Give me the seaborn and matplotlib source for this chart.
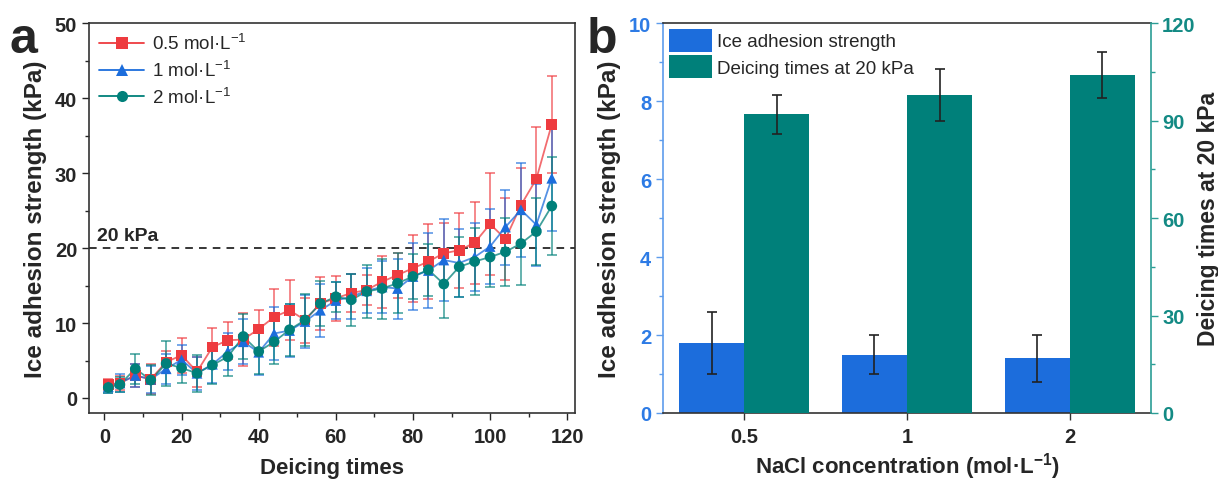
import numpy as np
import pandas as pd
import matplotlib
matplotlib.use("Agg")
import matplotlib.pyplot as plt
import seaborn as sns
from matplotlib.lines import Line2D
from matplotlib.patches import Patch
from matplotlib.ticker import MultipleLocator

# ---------------- data ----------------
deicing_times = [1, 4, 8, 12, 16, 20, 24, 28, 32, 36, 40, 44, 48, 52, 56,
                 60, 64, 68, 72, 76, 80, 84, 88, 92, 96, 100, 104, 108, 112, 116]

strength_05 = [1.8, 2.0, 3.0, 2.5, 4.8, 5.7, 3.5, 6.8, 7.7, 7.8, 9.2, 10.8, 11.7, 10.4, 12.6,
               13.3, 14.0, 14.4, 15.5, 16.4, 17.3, 18.2, 19.3, 19.7, 20.7, 23.2, 21.2, 25.7, 29.2, 36.5]
err_05 = [0.8, 1.0, 1.5, 2.0, 1.5, 2.3, 2.0, 2.5, 2.5, 3.5, 2.5, 3.8, 4.0, 3.0, 3.5,
          3.0, 2.5, 2.0, 3.5, 3.0, 4.5, 5.0, 4.0, 5.0, 5.5, 6.8, 5.5, 5.0, 7.0, 6.5]

strength_1 = [1.5, 2.0, 3.0, 2.5, 3.9, 5.1, 3.3, 4.5, 6.2, 7.5, 6.1, 8.6, 9.0, 10.2, 11.7,
              13.0, 13.5, 14.3, 14.8, 14.6, 16.2, 17.0, 18.4, 18.0, 18.8, 20.2, 22.8, 25.1, 23.1, 29.3]
err_1 = [0.8, 1.2, 1.5, 1.8, 2.0, 2.0, 2.2, 2.5, 2.5, 3.0, 3.0, 3.5, 3.5, 3.5, 3.5,
         2.5, 3.0, 3.0, 3.5, 4.0, 4.5, 5.0, 5.5, 4.5, 4.5, 5.0, 5.0, 6.3, 5.5, 7.0]

strength_2 = [1.4, 1.8, 3.9, 2.4, 4.6, 4.0, 3.3, 4.4, 5.5, 8.2, 6.2, 7.5, 9.1, 10.4, 12.6,
              13.5, 13.1, 14.2, 14.6, 15.3, 16.2, 17.1, 15.2, 17.5, 18.2, 18.8, 19.5, 20.6, 22.2, 25.6]
err_2 = [0.7, 1.0, 2.0, 2.0, 3.0, 2.0, 2.5, 2.5, 2.5, 3.0, 3.0, 3.0, 3.5, 3.5, 3.0,
         2.0, 3.5, 3.5, 4.0, 4.0, 3.0, 3.5, 4.5, 4.0, 4.5, 4.0, 4.5, 5.5, 4.5, 6.5]

series_labels = ["0.5 mol·L$^{-1}$", "1 mol·L$^{-1}$", "2 mol·L$^{-1}$"]
threshold = 20

nacl_conc = ["0.5", "1", "2"]
adhesion = [1.8, 1.5, 1.4]
adhesion_err = [0.8, 0.5, 0.6]
deicing_at_20 = [92, 98, 104]
deicing_err = [6, 8, 7]

# ---------------- style ----------------
sns.set_theme(style="ticks")
plt.rcParams["font.family"] = ["Liberation Sans", "DejaVu Sans"]
plt.rcParams["mathtext.fontset"] = "custom"
plt.rcParams["mathtext.rm"] = "Liberation Sans"
plt.rcParams["mathtext.bf"] = "Liberation Sans:bold"
plt.rcParams["mathtext.it"] = "Liberation Sans:italic"

RED = "#EE3B3F"
BLUE = "#1C6DDC"
TEAL = "#00807A"
colors = [RED, BLUE, TEAL]
markers = ["s", "^", "o"]

TICK_FS = 14.5
XLAB_FS = 16
YLAB_FS = 17.5

fig = plt.figure(figsize=(12.18, 4.81), dpi=100)
ax = fig.add_axes([0.0731, 0.1393, 0.3989, 0.8107])
axb = fig.add_axes([0.5443, 0.1393, 0.4007, 0.8107])

# ---------------- panel a ----------------
df = pd.DataFrame({
    "times": deicing_times * 3,
    "strength": strength_05 + strength_1 + strength_2,
    "err": err_05 + err_1 + err_2,
    "conc": sum([[lab] * len(deicing_times) for lab in series_labels], []),
})
pal = dict(zip(series_labels, colors))
mk = dict(zip(series_labels, markers))

for lab, c in zip(series_labels, colors):
    sub = df[df["conc"] == lab]
    ax.errorbar(sub["times"], sub["strength"], yerr=sub["err"], fmt="none",
                ecolor=c, elinewidth=1.2, capsize=3.6, capthick=1.2, alpha=0.7, zorder=2)

sns.lineplot(data=df, x="times", y="strength", hue="conc", palette=pal,
             linewidth=1.3, alpha=0.75, legend=False, ax=ax, zorder=3)
sns.scatterplot(data=df, x="times", y="strength", hue="conc", style="conc",
                palette=pal, markers=mk, s=60, linewidth=0, legend=False, ax=ax, zorder=4)

ax.axhline(threshold, color="black", linestyle=(0, (5, 4)), linewidth=1.1, zorder=1)
ax.text(-2, threshold + 0.6, "20 kPa", fontsize=14, fontweight="bold",
        ha="left", va="bottom")

ax.set_xlim(-4, 122)
ax.set_ylim(-2, 50)
ax.xaxis.set_major_locator(MultipleLocator(20))
ax.xaxis.set_minor_locator(MultipleLocator(10))
ax.yaxis.set_major_locator(MultipleLocator(10))
ax.yaxis.set_minor_locator(MultipleLocator(5))
ax.tick_params(axis="both", which="major", length=5, width=1, labelsize=TICK_FS, direction="out")
ax.tick_params(axis="x", which="major", pad=5)
ax.tick_params(axis="both", which="minor", length=3, width=1, direction="out")
for t in ax.get_xticklabels() + ax.get_yticklabels():
    t.set_fontweight("bold")
ax.set_xlabel("Deicing times", fontsize=XLAB_FS, fontweight="bold", labelpad=8)
ax.set_ylabel("Ice adhesion strength (kPa)", fontsize=YLAB_FS, fontweight="bold", labelpad=6)
for s in ax.spines.values():
    s.set_visible(True)
    s.set_linewidth(1.2)
    s.set_color("#333333")

handles = [Line2D([0], [0], color=c, marker=m, markersize=8, markeredgewidth=0, linewidth=1.3)
           for c, m in zip(colors, markers)]
ax.legend(handles, series_labels, loc="upper left", frameon=False, fontsize=13.5,
          handlelength=2.4, handletextpad=0.4, labelspacing=0.35,
          borderaxespad=0.2, borderpad=0.35)

# ---------------- panel b ----------------
axr = axb.twinx()
dfb_left = pd.DataFrame({
    "conc": nacl_conc * 2,
    "value": adhesion + [0] * len(nacl_conc),
    "series": ["Ice adhesion strength"] * 3 + ["Deicing times at 20 kPa"] * 3,
})
dfb_right = pd.DataFrame({
    "conc": nacl_conc * 2,
    "value": [0] * len(nacl_conc) + deicing_at_20,
    "series": ["Ice adhesion strength"] * 3 + ["Deicing times at 20 kPa"] * 3,
})
bar_pal = {"Ice adhesion strength": BLUE, "Deicing times at 20 kPa": TEAL}
sns.barplot(data=dfb_left, x="conc", y="value", hue="series", palette=bar_pal,
            width=0.8, errorbar=None, legend=False, ax=axb, saturation=1,
            linewidth=0)
sns.barplot(data=dfb_right, x="conc", y="value", hue="series", palette=bar_pal,
            width=0.8, errorbar=None, legend=False, ax=axr, saturation=1,
            linewidth=0)

left_bars = [p for p in axb.patches if p.get_height() > 0]
left_bars.sort(key=lambda p: p.get_x())
right_bars = [p for p in axr.patches if p.get_height() > 0]
right_bars.sort(key=lambda p: p.get_x())
axb.errorbar([p.get_x() + p.get_width() / 2 for p in left_bars], adhesion,
             yerr=adhesion_err, fmt="none", ecolor="#222222", elinewidth=1.2,
             capsize=3.6, capthick=1.2, zorder=5)
axr.errorbar([p.get_x() + p.get_width() / 2 for p in right_bars], deicing_at_20,
             yerr=deicing_err, fmt="none", ecolor="#222222", elinewidth=1.2,
             capsize=3.6, capthick=1.2, zorder=5)

axb.set_xlim(-0.5, 2.5)
axb.set_ylim(0, 10)
axr.set_ylim(0, 120)
axb.yaxis.set_major_locator(MultipleLocator(2))
axb.yaxis.set_minor_locator(MultipleLocator(1))
axr.yaxis.set_major_locator(MultipleLocator(30))
axr.yaxis.set_minor_locator(MultipleLocator(15))

LBLUE = "#5D9CEC"
TEAL_L = "#2A9D95"
axb.spines["left"].set_color(LBLUE)
axb.spines["right"].set_visible(False)
axr.spines["left"].set_visible(False)
axr.spines["right"].set_color(TEAL_L)
axr.spines["bottom"].set_visible(False)
axr.spines["top"].set_visible(False)
axb.spines["top"].set_visible(True)
axb.spines["top"].set_color("#333333")
axb.spines["bottom"].set_color("#333333")
for s in list(axb.spines.values()) + list(axr.spines.values()):
    s.set_linewidth(1.2)

axb.tick_params(axis="y", which="major", colors=LBLUE, length=5, width=1, labelsize=TICK_FS,
                labelcolor="#2D7BE5")
axb.tick_params(axis="y", which="minor", colors=LBLUE, length=3, width=1)
axb.tick_params(axis="x", which="major", length=5, width=1, labelsize=TICK_FS, color="#333333",
                pad=5)
axr.tick_params(axis="y", which="major", colors=TEAL_L, length=5, width=1, labelsize=TICK_FS,
                labelcolor="#138A84", pad=3)
axr.tick_params(axis="y", which="minor", colors=TEAL_L, length=3, width=1)
for t in axb.get_xticklabels() + axb.get_yticklabels() + axr.get_yticklabels():
    t.set_fontweight("bold")

axb.set_xlabel(r"NaCl concentration (mol·L$^{\mathbf{-1}}$)", fontsize=XLAB_FS,
               fontweight="bold", labelpad=3)
axb.set_ylabel("Ice adhesion strength (kPa)", fontsize=YLAB_FS, fontweight="bold", labelpad=6)
axr.set_ylabel("Deicing times at 20 kPa", fontsize=16.5, fontweight="bold", labelpad=1)

leg_handles = [Patch(facecolor=BLUE, edgecolor="none"), Patch(facecolor=TEAL, edgecolor="none")]
axb.legend(leg_handles, ["Ice adhesion strength", "Deicing times at 20 kPa"],
           loc="upper left", frameon=False, fontsize=13.5, handlelength=2.3,
           handleheight=1.5, handletextpad=0.3, labelspacing=0.2,
           borderaxespad=0.1, borderpad=0.2)

# panel letters
fig.text(0.008, 0.89, "a", fontsize=36, fontweight="bold")
fig.text(0.482, 0.89, "b", fontsize=36, fontweight="bold")

fig.savefig("out.png", dpi=100)
